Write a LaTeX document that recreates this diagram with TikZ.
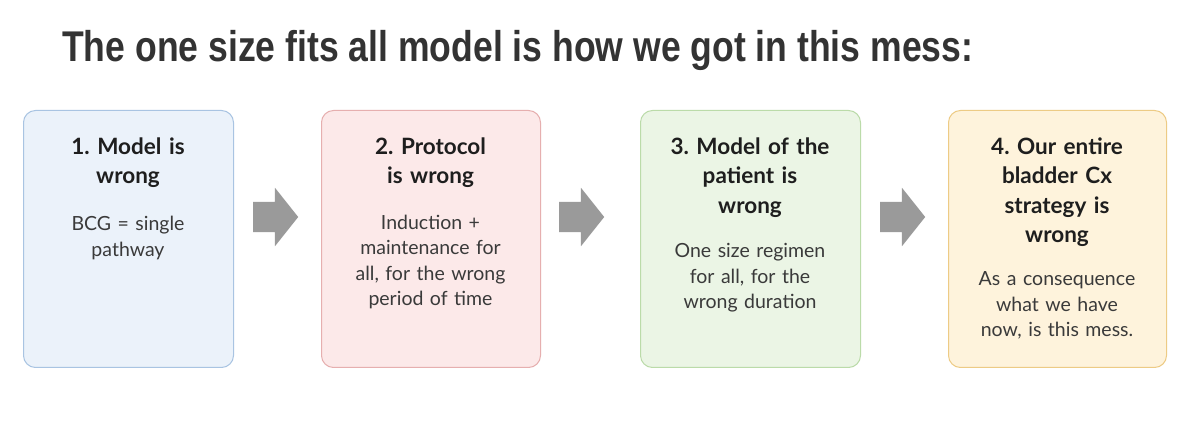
\documentclass[tikz,border=0pt]{standalone}
\usepackage{fontspec}
\setmainfont{Lato}
\newfontfamily\titlefont{Liberation Sans}
\usetikzlibrary{shapes.arrows}
\frenchspacing
\definecolor{bluefill}{HTML}{EBF2FA}
\definecolor{blueline}{HTML}{A9C4E2}
\definecolor{redfill}{HTML}{FCE9E9}
\definecolor{redline}{HTML}{E6AFAF}
\definecolor{greenfill}{HTML}{EBF5E5}
\definecolor{greenline}{HTML}{BBDBA9}
\definecolor{yellowfill}{HTML}{FEF3DC}
\definecolor{yellowline}{HTML}{EDCB85}
\definecolor{arrowgray}{HTML}{9A9A9A}
\definecolor{titlegray}{HTML}{333333}
\definecolor{headtext}{HTML}{1E1E1E}
\definecolor{bodytext}{HTML}{3A3A3A}
\begin{document}
\begin{tikzpicture}[x=1pt,y=-1pt,
  card/.style n args={3}{draw=#1, fill=#2, line width=1pt, rounded corners=12pt,
    minimum width=#3, minimum height=257pt, anchor=north west, inner sep=0pt},
  head/.style={anchor=base, inner sep=0pt, align=center, text width=205pt,
    text=headtext, font=\fontsize{22.5}{29.3}\selectfont\bfseries\frenchspacing},
  body/.style={anchor=base, inner sep=0pt, align=center, text width=205pt,
    text=bodytext, font=\fontsize{19.5}{25.3}\selectfont\frenchspacing},
  blockarrow/.style={single arrow, draw=none, fill=arrowgray, minimum height=45pt,
    inner xsep=0pt, inner ysep=15pt, single arrow head extend=14pt,
    single arrow tip angle=103, shape border rotate=0, anchor=tail}
]
\useasboundingbox[fill=white] (0,0) rectangle (1200,430);

\node[anchor=base west, inner sep=0pt, text=titlegray] (title) at (62,62)
  {\resizebox{911pt}{\height}{\titlefont\fontsize{43}{50}\selectfont\bfseries The one size fits all model is how we got in this mess:}};

\node[card={blueline}{bluefill}{210pt}] (b1) at (23,110) {};
\node[card={redline}{redfill}{219pt}] (b2) at (321,110) {};
\node[card={greenline}{greenfill}{220pt}] (b3) at (640,110) {};
\node[card={yellowline}{yellowfill}{218pt}] (b4) at (948,110) {};

\node[head] (h1) at (128,154.5) {1. Model is\\wrong};
\node[body] (t1) at (128,231) {BCG = single\\pathway};

\node[head] (h2) at (430.5,154.5) {2. Protocol\\is wrong};
\node[body] (t2) at (430.5,229.5) {Induction +\\maintenance for\\all, for the wrong\\period of time};

\node[head] (h3) at (750,154.5) {3. Model of the\\patient is\\wrong};
\node[body] (t3) at (750,258) {One size regimen\\for all, for the\\wrong duration};

\node[head] (h4) at (1057,154.5) {4. Our entire\\bladder Cx\\strategy is\\wrong};
\node[body] (t4) at (1057,286) {As a consequence\\what we have\\now, is this mess.};

\node[blockarrow] (a1) at (253,217) {};
\node[blockarrow] (a2) at (559,217) {};
\node[blockarrow] (a3) at (880,217) {};
\end{tikzpicture}
\end{document}
